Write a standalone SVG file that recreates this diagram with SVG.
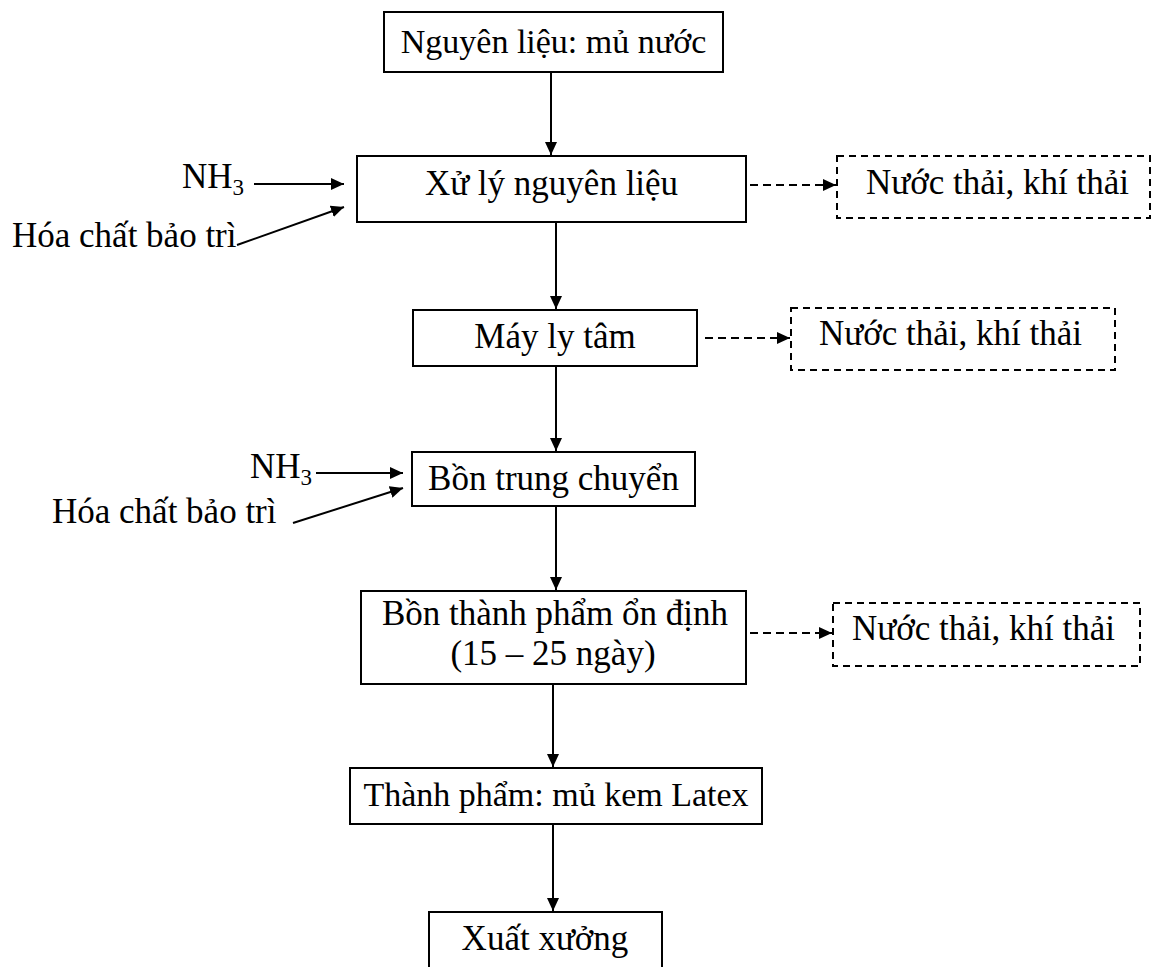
<svg xmlns="http://www.w3.org/2000/svg" width="1158" height="967" viewBox="0 0 1158 967">
  <style>
    .box { fill: #fff; stroke: #000; stroke-width: 2; }
    .dbox { fill: #fff; stroke: #000; stroke-width: 2; stroke-dasharray: 7 5; }
    .t { font-family: "Liberation Serif", "Times New Roman", serif; font-size: 35px; fill: #000; }
    .s34 { font-size: 34px; }
    .c { text-anchor: middle; }
    .sub { font-size: 23px; }
    .ln { stroke: #000; stroke-width: 2; fill: none; }
    .dl { stroke: #000; stroke-width: 2; fill: none; stroke-dasharray: 8 5; }
  </style>
  <defs>
    <marker id="ah" markerUnits="userSpaceOnUse" markerWidth="14" markerHeight="12" refX="13" refY="6" orient="auto">
      <path d="M0,0 L13,6 L0,12 z" fill="#000"/>
    </marker>
  </defs>
  <rect width="1158" height="967" fill="#fff"/>

  <!-- connectors -->
  <g id="connectors">
    <line class="ln" x1="551" y1="72" x2="551" y2="155" marker-end="url(#ah)"/>
    <line class="ln" x1="556" y1="222" x2="556" y2="309" marker-end="url(#ah)"/>
    <line class="ln" x1="556" y1="366" x2="556" y2="451" marker-end="url(#ah)"/>
    <line class="ln" x1="556" y1="506" x2="556" y2="590" marker-end="url(#ah)"/>
    <line class="ln" x1="553" y1="684" x2="553" y2="767" marker-end="url(#ah)"/>
    <line class="ln" x1="553" y1="824" x2="553" y2="911" marker-end="url(#ah)"/>

    <!-- chemical inputs -->
    <line class="ln" x1="254" y1="184" x2="344" y2="184" marker-end="url(#ah)"/>
    <line class="ln" x1="237" y1="245" x2="344" y2="207" marker-end="url(#ah)"/>
    <line class="ln" x1="316" y1="473" x2="403" y2="473" marker-end="url(#ah)"/>
    <line class="ln" x1="293" y1="523" x2="403" y2="488" marker-end="url(#ah)"/>

    <!-- waste outputs -->
    <line class="dl" x1="750" y1="185" x2="836" y2="185" marker-end="url(#ah)"/>
    <line class="dl" x1="705" y1="338" x2="790" y2="338" marker-end="url(#ah)"/>
    <line class="dl" x1="750" y1="633" x2="832" y2="633" marker-end="url(#ah)"/>
  </g>

  <g id="n-nguyen-lieu">
    <rect class="box" x="384" y="12" width="339" height="60"/>
    <text class="t s34 c" x="553.5" y="53">Nguyên liệu: mủ nước</text>
  </g>

  <g id="n-xu-ly">
    <rect class="box" x="357" y="156" width="389" height="66"/>
    <text class="t c" x="551.5" y="195">Xử lý nguyên liệu</text>
  </g>

  <g id="in-nh3-1">
    <text class="t" x="182" y="188">NH<tspan class="sub" dy="7">3</tspan></text>
  </g>
  <g id="in-hoa-chat-1">
    <text class="t" x="12" y="247">Hóa chất bảo trì</text>
  </g>

  <g id="w-1">
    <rect class="dbox" x="837" y="156" width="313" height="62"/>
    <text class="t" x="866" y="194">Nước thải, khí thải</text>
  </g>

  <g id="n-may-ly-tam">
    <rect class="box" x="413" y="310" width="284" height="56"/>
    <text class="t c" x="555" y="348">Máy ly tâm</text>
  </g>

  <g id="w-2">
    <rect class="dbox" x="791" y="308" width="324" height="62"/>
    <text class="t" x="819" y="345">Nước thải, khí thải</text>
  </g>

  <g id="n-bon-trung-chuyen">
    <rect class="box" x="412" y="452" width="283" height="54"/>
    <text class="t c" x="553.5" y="490">Bồn trung chuyển</text>
  </g>

  <g id="in-nh3-2">
    <text class="t" x="250" y="478">NH<tspan class="sub" dy="7">3</tspan></text>
  </g>
  <g id="in-hoa-chat-2">
    <text class="t" x="52" y="523">Hóa chất bảo trì</text>
  </g>

  <g id="n-bon-thanh-pham">
    <rect class="box" x="361" y="591" width="385" height="93"/>
    <text class="t c" x="555" y="625">Bồn thành phẩm ổn định</text>
    <text class="t c" x="553" y="665">(15 – 25 ngày)</text>
  </g>

  <g id="w-3">
    <rect class="dbox" x="833" y="603" width="307" height="63"/>
    <text class="t" x="852" y="640">Nước thải, khí thải</text>
  </g>

  <g id="n-thanh-pham">
    <rect class="box" x="350" y="768" width="412" height="56"/>
    <text class="t s34 c" x="556" y="806">Thành phẩm: mủ kem Latex</text>
  </g>

  <g id="n-xuat-xuong">
    <rect class="box" x="429" y="912" width="233" height="70"/>
    <text class="t c" x="545" y="950">Xuất xưởng</text>
  </g>
</svg>
